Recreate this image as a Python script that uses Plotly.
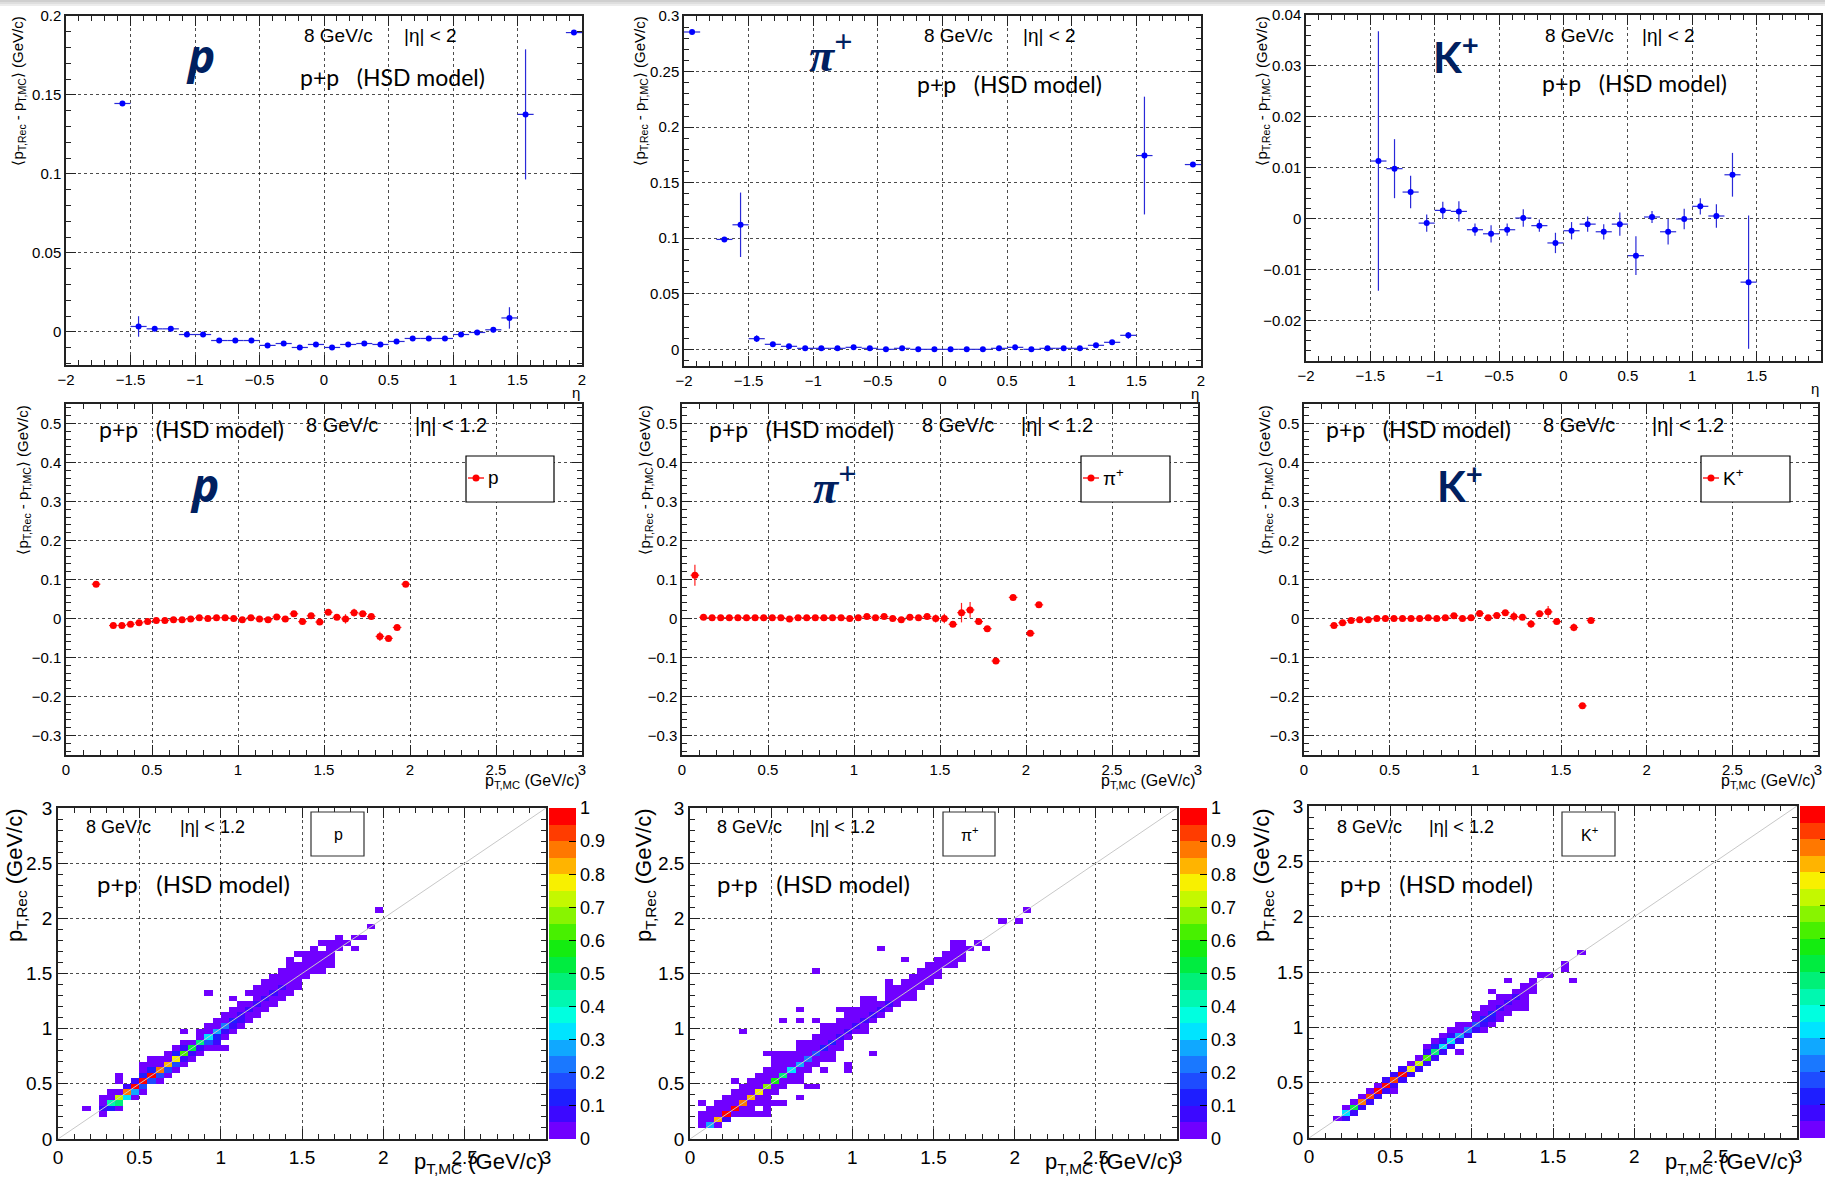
import plotly.graph_objects as go

W, H = 1825, 1178

# ---------------- <pT,Rec - pT,MC> versus eta (bins of 0.125) ----------------
p_eta_x = [-1.5625, -1.4375, -1.3125, -1.1875, -1.0625, -0.9375, -0.8125, -0.6875, -0.5625,
           -0.4375, -0.3125, -0.1875, -0.0625, 0.0625, 0.1875, 0.3125, 0.4375, 0.5625, 0.6875,
           0.8125, 0.9375, 1.0625, 1.1875, 1.3125, 1.4375, 1.5625, 1.9375]
p_eta_y = [0.1446, 0.0034, 0.0019, 0.0019, -0.0017, -0.0017, -0.0055, -0.0055, -0.0055,
           -0.0086, -0.0074, -0.0099, -0.0080, -0.0099, -0.0080, -0.0074, -0.0080, -0.0061, -0.0042,
           -0.0042, -0.0042, -0.0017, -0.0004, 0.0013, 0.0088, 0.1377, 0.1895]
p_eta_err = [0.0003, 0.0065, 0.0008, 0.0008, 0.0006, 0.0006, 0.0005, 0.0005, 0.0005,
             0.0005, 0.0005, 0.0005, 0.0005, 0.0005, 0.0005, 0.0005, 0.0005, 0.0005, 0.0005,
             0.0005, 0.0005, 0.0006, 0.0008, 0.0015, 0.0068, 0.0412, 0.0003]

pi_eta_x = [-1.9375, -1.6875, -1.5625, -1.4375, -1.3125, -1.1875, -1.0625, -0.9375, -0.8125,
            -0.6875, -0.5625, -0.4375, -0.3125, -0.1875, -0.0625, 0.0625, 0.1875, 0.3125,
            0.4375, 0.5625, 0.6875, 0.8125, 0.9375, 1.0625, 1.1875, 1.3125, 1.4375, 1.5625, 1.9375]
pi_eta_y = [0.2856, 0.0989, 0.1121, 0.0096, 0.0045, 0.0027, 0.0009, 0.0009, 0.0009,
            0.0018, 0.0009, 0.0000, 0.0009, 0.0000, 0.0000, 0.0000, 0.0000, 0.0000,
            0.0009, 0.0018, 0.0000, 0.0009, 0.0009, 0.0009, 0.0036, 0.0063, 0.0126, 0.1744, 0.1663]
pi_eta_err = [0.0004, 0.0006, 0.0290, 0.0030, 0.0012, 0.0008, 0.0006, 0.0006, 0.0006,
              0.0006, 0.0006, 0.0006, 0.0006, 0.0006, 0.0006, 0.0006, 0.0006, 0.0006,
              0.0006, 0.0006, 0.0006, 0.0006, 0.0006, 0.0006, 0.0008, 0.0010, 0.0030, 0.0530, 0.0004]

k_eta_x = [-1.4375, -1.3125, -1.1875, -1.0625, -0.9375, -0.8125, -0.6875, -0.5625, -0.4375,
           -0.3125, -0.1875, -0.0625, 0.0625, 0.1875, 0.3125, 0.4375, 0.5625, 0.6875, 0.8125,
           0.9375, 1.0625, 1.1875, 1.3125, 1.4375]
k_eta_y = [0.0113, 0.0098, 0.0052, -0.0009, 0.0016, 0.0014, -0.0022, -0.0030, -0.0022,
           0.0001, -0.0014, -0.0048, -0.0024, -0.0011, -0.0026, -0.0011, -0.0073, 0.0003, -0.0026,
           -0.0001, 0.0024, 0.0005, 0.0086, -0.0125]
k_eta_err = [0.0255, 0.0058, 0.0032, 0.0017, 0.0017, 0.0020, 0.0012, 0.0017, 0.0012,
             0.0017, 0.0012, 0.0020, 0.0017, 0.0015, 0.0015, 0.0023, 0.0038, 0.0012, 0.0025,
             0.0020, 0.0016, 0.0023, 0.0043, 0.0131]

# ---------------- <pT,Rec - pT,MC> versus pT,MC (bins of 0.05 GeV/c) ----------------
p_pt_x = [0.175, 0.275, 0.325, 0.375, 0.425, 0.475, 0.525, 0.575, 0.625, 0.675, 0.725, 0.775,
          0.825, 0.875, 0.925, 0.975, 1.025, 1.075, 1.125, 1.175, 1.225, 1.275, 1.325, 1.375,
          1.425, 1.475, 1.525, 1.575, 1.625, 1.675, 1.725, 1.775, 1.825, 1.875, 1.925, 1.975]
p_pt_y = [0.088, -0.018, -0.018, -0.015, -0.011, -0.008, -0.005, -0.005, -0.003, -0.003, -0.001, 0.002,
          0.000, 0.002, 0.002, 0.000, -0.003, 0.002, -0.001, -0.003, 0.004, -0.001, 0.012, -0.008,
          0.007, -0.009, 0.016, 0.003, -0.001, 0.015, 0.012, 0.005, -0.046, -0.051, -0.023, 0.088]
p_pt_err = [0.003, 0.002, 0.002, 0.002, 0.002, 0.002, 0.002, 0.002, 0.002, 0.002, 0.002, 0.002,
            0.002, 0.002, 0.002, 0.002, 0.002, 0.002, 0.002, 0.002, 0.003, 0.003, 0.004, 0.004,
            0.005, 0.005, 0.004, 0.004, 0.012, 0.010, 0.006, 0.004, 0.012, 0.004, 0.005, 0.003]

pi_pt_x = [0.075, 0.125, 0.175, 0.225, 0.275, 0.325, 0.375, 0.425, 0.475, 0.525, 0.575, 0.625,
           0.675, 0.725, 0.775, 0.825, 0.875, 0.925, 0.975, 1.025, 1.075, 1.125, 1.175, 1.225,
           1.275, 1.325, 1.375, 1.425, 1.475, 1.525, 1.575, 1.625, 1.675, 1.725, 1.775, 1.825,
           1.925, 2.025, 2.075]
pi_pt_y = [0.111, 0.003, 0.002, 0.002, 0.002, 0.002, 0.002, 0.002, 0.002, 0.002, 0.002, -0.001,
           0.002, 0.002, 0.002, 0.002, 0.002, 0.002, 0.000, 0.002, 0.005, 0.002, 0.005, 0.000,
           -0.003, 0.003, 0.002, 0.005, 0.000, 0.000, -0.015, 0.015, 0.022, -0.008, -0.026, -0.109,
           0.054, -0.038, 0.035]
pi_pt_err = [0.027, 0.002, 0.002, 0.002, 0.002, 0.002, 0.002, 0.002, 0.002, 0.002, 0.002, 0.002,
             0.002, 0.002, 0.002, 0.002, 0.002, 0.002, 0.002, 0.002, 0.003, 0.003, 0.003, 0.003,
             0.003, 0.008, 0.004, 0.008, 0.010, 0.012, 0.007, 0.025, 0.020, 0.004, 0.004, 0.004,
             0.004, 0.003, 0.003]

k_pt_x = [0.175, 0.225, 0.275, 0.325, 0.375, 0.425, 0.475, 0.525, 0.575, 0.625, 0.675, 0.725,
          0.775, 0.825, 0.875, 0.925, 0.975, 1.025, 1.075, 1.125, 1.175, 1.225, 1.275, 1.325,
          1.375, 1.425, 1.475, 1.575, 1.625, 1.675]
k_pt_y = [-0.018, -0.011, -0.005, -0.003, -0.003, 0.000, 0.000, 0.000, 0.000, 0.000, 0.000, 0.002,
          0.000, 0.002, 0.007, 0.000, 0.002, 0.013, 0.002, 0.008, 0.015, 0.005, 0.003, -0.014,
          0.012, 0.017, -0.008, -0.023, -0.224, -0.005]
k_pt_err = [0.003, 0.003, 0.003, 0.003, 0.003, 0.003, 0.003, 0.003, 0.003, 0.003, 0.003, 0.003,
            0.003, 0.003, 0.004, 0.003, 0.003, 0.004, 0.004, 0.004, 0.005, 0.012, 0.004, 0.010,
            0.008, 0.015, 0.004, 0.010, 0.003, 0.003]

# ---------------- pT,Rec versus pT,MC, normalised counts in 0.05 x 0.05 GeV/c cells ----------------
# Each row: (pT,Rec bin index, first pT,MC bin index, colour-band string).
# Band characters 0..9, A..J stand for the 20 palette levels (0.05 wide); '.' is an empty cell.
BAND_CHARS = "0123456789ABCDEFGHIJ"

p_cells = [
    (4, 5, "0"), (5, 3, "0.120"), (6, 5, "089"), (7, 5, "00E60"), (8, 6, "00H50"),
    (9, 8, "1J3"), (10, 7, "0.1J30"), (11, 7, "0..2J30"), (12, 10, "02H30"),
    (13, 10, "000G30"), (14, 11, "000F10"), (15, 13, "02C10"), (16, 14, "01A1000"),
    (17, 15, "00931"), (18, 17, "0620"), (19, 15, "0.00510"), (20, 18, "00410"),
    (21, 19, "00210"), (22, 20, "00100"), (23, 21, "00100"), (24, 22, "00100"),
    (25, 21, "0..0100"), (26, 18, "0....000100"), (27, 24, "000100"), (28, 25, "00000"),
    (29, 26, "00000"), (30, 27, "000000"), (31, 28, "000000"), (32, 28, "0.0000"),
    (33, 29, "00000"), (34, 31, "0.00.0"), (35, 32, "0000"), (36, 34, "0.00"),
    (38, 38, "0"), (41, 39, "0"),
]

pi_cells = [
    (2, 1, "050"), (3, 1, "00G1"), (4, 1, "000J00000"), (5, 2, "000J00.0"),
    (6, 1, "0.000H00000"), (7, 4, "000G00...0"), (8, 5, "000F00"), (9, 6, "000D00..00"),
    (10, 5, "0.000B000"), (11, 8, "000900"), (12, 9, "000600.0..0"), (13, 10, "000500...0"),
    (14, 10, "00004000"), (15, 9, "000000300....0"), (16, 13, "000200"), (17, 13, "000020"),
    (18, 15, "00010"), (19, 6, "0.........000100"), (20, 16, "000010"),
    (21, 11, "0.0.0..00010"), (22, 19, "00010"), (23, 13, "0....0000010"), (24, 21, "00010"),
    (25, 21, "00.0000"), (26, 24, "0000"), (27, 24, "00000"), (28, 24, "0.0000"),
    (29, 27, "0000"), (30, 15, "0............000"), (31, 29, "0000"), (32, 26, "0...0000"),
    (33, 31, "000"), (34, 23, "0........000.0"), (35, 32, "00.0"), (39, 38, "0.0"), (41, 41, "0"),
]

k_cells = [
    (3, 3, "01"), (4, 4, "61"), (5, 4, "0A1"), (6, 5, "0H1"), (7, 6, "0I1"), (8, 7, "0J10"),
    (9, 8, "0J1"), (10, 9, "1I1"), (11, 10, "1J1"), (12, 11, "1F1"), (13, 12, "0E1"),
    (14, 13, "0C1"), (15, 14, "191.0"), (16, 14, "0261"), (17, 15, "0161"), (18, 16, "0151"),
    (19, 17, "00410"), (20, 18, "00310"), (21, 20, "0210"), (22, 20, "00200"),
    (23, 21, "001000"), (24, 22, "00100"), (25, 23, "0010"), (26, 22, "0..000"),
    (27, 26, "00"), (28, 24, "0..0....0"), (29, 28, "00"), (30, 31, "0"), (31, 31, "0"),
    (33, 33, "0"),
]

palette = ["#7000ff", "#3c08ff", "#1e1eff", "#1e4cff", "#1a78ff", "#10a8ff", "#00e4ff",
           "#00ffe0", "#00f8b0", "#00f078", "#00ec40", "#14ec10", "#48f000", "#88f400",
           "#c4f800", "#f8f000", "#ffb400", "#ff7800", "#ff3c00", "#ff0000"]

NB = 60  # 0..3 GeV/c in 0.05 steps


def cells_to_grid(rows):
    z = [[None] * NB for _ in range(NB)]
    for j, i0, s in rows:
        for k, ch in enumerate(s):
            if ch != ".":
                z[j][i0 + k] = (BAND_CHARS.index(ch) + 0.5) / 20.0
    return z


def px(x):
    return x / W


def py(y):
    return 1 - y / H


SANS = "Liberation Sans, Arial, Helvetica, sans-serif"
HUM = "Lato, Carlito, Calibri, Open Sans, sans-serif"
NAVY = "#002060"
FRAME = "#222222"
GRID = "rgba(0,0,0,0.7)"


def make_axis(lo, hi, horizontal, rng, dtick, minor, size, anchor):
    dom = [px(lo), px(hi)] if horizontal else [py(hi), py(lo)]
    return dict(
        domain=dom, range=rng, dtick=dtick, tick0=0, anchor=anchor,
        showline=True, linecolor=FRAME, linewidth=1.5, mirror="allticks",
        ticks="inside", ticklen=10, tickwidth=1, tickcolor=FRAME,
        minor=dict(dtick=minor, tick0=0, ticks="inside", ticklen=5, tickwidth=1,
                   tickcolor=FRAME, showgrid=False),
        showgrid=True, gridcolor=GRID, gridwidth=1, griddash="dot",
        zeroline=False, fixedrange=True,
        tickfont=dict(family=SANS, size=size, color="black"),
    )


fig = go.Figure()
layout = dict(width=W, height=H, margin=dict(l=0, r=0, t=0, b=0, autoexpand=False),
              paper_bgcolor="white", plot_bgcolor="white", showlegend=False)

# panel frames in pixels: (x0, x1, y_top, y_bottom)
frames = [
    (66, 582, 16, 365), (684, 1201, 16, 366), (1306, 1821, 15, 361),
    (66, 582, 404, 755), (682, 1198, 404, 755), (1304, 1818, 404, 755),
    (58, 546, 808, 1139), (690, 1177, 808, 1139), (1309, 1797, 806, 1138),
]

yranges_eta = [[-0.021, 0.2], [-0.015, 0.3], [-0.028, 0.04]]
ydticks_eta = [0.05, 0.05, 0.01]
yminor_eta = [0.01, 0.01, 0.002]

for n, (x0, x1, yt, yb) in enumerate(frames):
    k = n + 1
    xs = "x" if k == 1 else "x%d" % k
    ys = "y" if k == 1 else "y%d" % k
    xkey = "xaxis" if k == 1 else "xaxis%d" % k
    ykey = "yaxis" if k == 1 else "yaxis%d" % k
    if n < 3:
        layout[xkey] = make_axis(x0, x1, True, [-2, 2], 0.5, 0.1, 15, ys)
        layout[ykey] = make_axis(yt, yb, False, yranges_eta[n], ydticks_eta[n], yminor_eta[n], 15, xs)
    elif n < 6:
        layout[xkey] = make_axis(x0, x1, True, [0, 3], 0.5, 0.1, 15, ys)
        layout[ykey] = make_axis(yt, yb, False, [-0.35, 0.55], 0.1, 0.02, 15, xs)
    else:
        layout[xkey] = make_axis(x0, x1, True, [0, 3], 0.5, 0.1, 19, ys)
        layout[ykey] = make_axis(yt, yb, False, [0, 3], 0.5, 0.1, 19, xs)

# ---- row 1: versus eta ----
eta_sets = [(p_eta_x, p_eta_y, p_eta_err), (pi_eta_x, pi_eta_y, pi_eta_err), (k_eta_x, k_eta_y, k_eta_err)]
for n, (xv, yv, ev) in enumerate(eta_sets):
    k = n + 1
    fig.add_trace(go.Scatter(
        x=xv, y=yv, mode="markers",
        marker=dict(color="#0000ff", size=6),
        error_x=dict(type="constant", value=0.0625, width=0, thickness=1.2, color="#2a2ad8"),
        error_y=dict(type="data", array=ev, width=0, thickness=1.2, color="#2a2ad8"),
        xaxis="x" if k == 1 else "x%d" % k, yaxis="y" if k == 1 else "y%d" % k,
        cliponaxis=True, hoverinfo="skip"))

# ---- row 2: versus pT,MC ----
pt_sets = [(p_pt_x, p_pt_y, p_pt_err), (pi_pt_x, pi_pt_y, pi_pt_err), (k_pt_x, k_pt_y, k_pt_err)]
for n, (xv, yv, ev) in enumerate(pt_sets):
    k = n + 4
    fig.add_trace(go.Scatter(
        x=xv, y=yv, mode="markers",
        marker=dict(color="#ff0000", size=7),
        error_x=dict(type="constant", value=0.025, width=0, thickness=1.2, color="#ff2020"),
        error_y=dict(type="data", array=ev, width=0, thickness=1.2, color="#ff2020"),
        xaxis="x%d" % k, yaxis="y%d" % k, hoverinfo="skip"))

# ---- row 3: response matrices ----
colorscale = []
for b, c in enumerate(palette):
    colorscale.append([b / 20.0, c])
    colorscale.append([(b + 1) / 20.0, c])

cb_left = [549, 1180, 1800]
for n, cells in enumerate([p_cells, pi_cells, k_cells]):
    k = n + 7
    x0, x1, yt, yb = frames[n + 6]
    fig.add_trace(go.Heatmap(
        z=cells_to_grid(cells), x0=0.025, dx=0.05, y0=0.025, dy=0.05,
        zmin=0, zmax=1, colorscale=colorscale, hoverinfo="skip",
        xaxis="x%d" % k, yaxis="y%d" % k,
        colorbar=dict(
            x=px(cb_left[n]), xanchor="left", xpad=0, ypad=0,
            y=py(yb), yanchor="bottom", len=(yb - yt) / H, lenmode="fraction",
            thickness=27, thicknessmode="pixels", outlinewidth=0,
            tickvals=[0, 0.1, 0.2, 0.3, 0.4, 0.5, 0.6, 0.7, 0.8, 0.9, 1.0],
            ticktext=["0", "0.1", "0.2", "0.3", "0.4", "0.5", "0.6", "0.7", "0.8", "0.9", "1"],
            ticks="inside", ticklen=7, tickcolor="black", tickwidth=1,
            tickfont=dict(family=SANS, size=18, color="black"))))
    fig.add_trace(go.Scatter(
        x=[0, 3], y=[0, 3], mode="lines", line=dict(color="#c8c8c8", width=1),
        xaxis="x%d" % k, yaxis="y%d" % k, hoverinfo="skip"))

# ---------------- texts ----------------
ann = []
shapes = []


def text(t, x, y, size, family=SANS, color="black", xanchor="left", yanchor="middle", angle=0):
    ann.append(dict(text=t, x=px(x), y=py(y), xref="paper", yref="paper", showarrow=False,
                    xanchor=xanchor, yanchor=yanchor, textangle=angle,
                    font=dict(family=family, size=size, color=color)))


ytitle = "⟨p<sub>T,Rec</sub> - p<sub>T,MC</sub>⟩ (GeV/c)"
# row 1
for xc in (18, 640, 1262):
    text(ytitle, xc, 15, 15, xanchor="center", yanchor="top", angle=-90)
for xr, yc in ((582, 392), (1201, 393), (1821, 389)):
    text("η", xr, yc, 15, xanchor="right")
for xa, xb in ((302, 402), (922, 1021), (1543, 1640)):
    text("8 GeV/c", xa, 36, 19)
    text("|η| < 2", xb, 36, 19)
for xa, yc in ((298, 77), (915, 84), (1540, 83)):
    text("p+p   (HSD model)", xa, yc, 23, family=HUM)
text("<b><i>p</i></b>", 200, 55, 46, family="Open Sans, DejaVu Sans, sans-serif", color=NAVY, xanchor="center")
text("<b><i>π</i></b><sup><b>+</b></sup>", 830, 52, 46, family="Liberation Serif, DejaVu Serif, serif", color=NAVY, xanchor="center")
text("<b>K</b><sup><b>+</b></sup>", 1456, 54, 42, family=HUM, color=NAVY, xanchor="center")

# row 2
for xc in (23, 645, 1265):
    text(ytitle, xc, 404, 15, xanchor="center", yanchor="top", angle=-90)
for xr in (582, 1198, 1818):
    text("p<sub>T,MC</sub> (GeV/c)", xr, 781, 16, xanchor="right")
for xa, xb in ((304, 413), (920, 1019), (1541, 1650)):
    text("8 GeV/c", xa, 425, 20)
    text("|η| < 1.2", xb, 425, 20)
for xa in (97, 707, 1324):
    text("p+p   (HSD model)", xa, 429, 23, family=HUM)
text("<b><i>p</i></b>", 204, 484, 46, family="Open Sans, DejaVu Sans, sans-serif", color=NAVY, xanchor="center")
text("<b><i>π</i></b><sup><b>+</b></sup>", 834, 484, 46, family="Liberation Serif, DejaVu Serif, serif", color=NAVY, xanchor="center")
text("<b>K</b><sup><b>+</b></sup>", 1460, 483, 42, family=HUM, color=NAVY, xanchor="center")

# row 2 legend boxes: (box x0, x1, label)
for bx0, bx1, lab in ((466, 554, "p"), (1081, 1170, "π<sup>+</sup>"), (1701, 1790, "K<sup>+</sup>")):
    shapes.append(dict(type="rect", xref="paper", yref="paper", x0=px(bx0), x1=px(bx1),
                       y0=py(502), y1=py(456), line=dict(color="black", width=1.2), fillcolor="white"))
    cx = bx0 + 10
    shapes.append(dict(type="line", xref="paper", yref="paper", x0=px(cx - 8), x1=px(cx + 8),
                       y0=py(478), y1=py(478), line=dict(color="#ff2020", width=1.5)))
    shapes.append(dict(type="circle", xref="paper", yref="paper", x0=px(cx - 3.5), x1=px(cx + 3.5),
                       y0=py(481.5), y1=py(474.5), line=dict(color="#ff0000", width=0), fillcolor="#ff0000"))
    text(lab, bx0 + 20, 477, 19)

# row 3
for xc in (16, 645, 1263):
    text("p<sub>T,Rec</sub> (GeV/c)", xc, 806, 22, xanchor="center", yanchor="top", angle=-90)
for xr in (546, 1177, 1797):
    text("p<sub>T,MC</sub> (GeV/c)", xr, 1163, 22, xanchor="right")
for xa, xb in ((84, 178), (715, 808), (1335, 1427)):
    text("8 GeV/c", xa, 827, 18)
    text("|η| < 1.2", xb, 827, 18)
for xa in (95, 715, 1338):
    text("p+p   (HSD model)", xa, 883, 24, family=HUM)
for bx0, bx1, lab in ((311, 364, "p"), (943, 995, "π<sup>+</sup>"), (1562, 1615, "K<sup>+</sup>")):
    shapes.append(dict(type="rect", xref="paper", yref="paper", x0=px(bx0), x1=px(bx1),
                       y0=py(856), y1=py(812), line=dict(color="#333333", width=1.2), fillcolor="white"))
    text(lab, (bx0 + bx1) / 2 + 1, 834, 16, xanchor="center")

# faint shading along the top edge of the page
for y0, y1, c in ((0, 2, "#cfcfcf"), (2, 4, "#dedede"), (4, 6, "#ececec")):
    shapes.append(dict(type="rect", xref="paper", yref="paper", x0=0, x1=1, y0=py(y1), y1=py(y0),
                       line=dict(width=0), fillcolor=c, layer="above"))

layout["annotations"] = ann
layout["shapes"] = shapes
fig.update_layout(**layout)
fig.write_html("out.html")
